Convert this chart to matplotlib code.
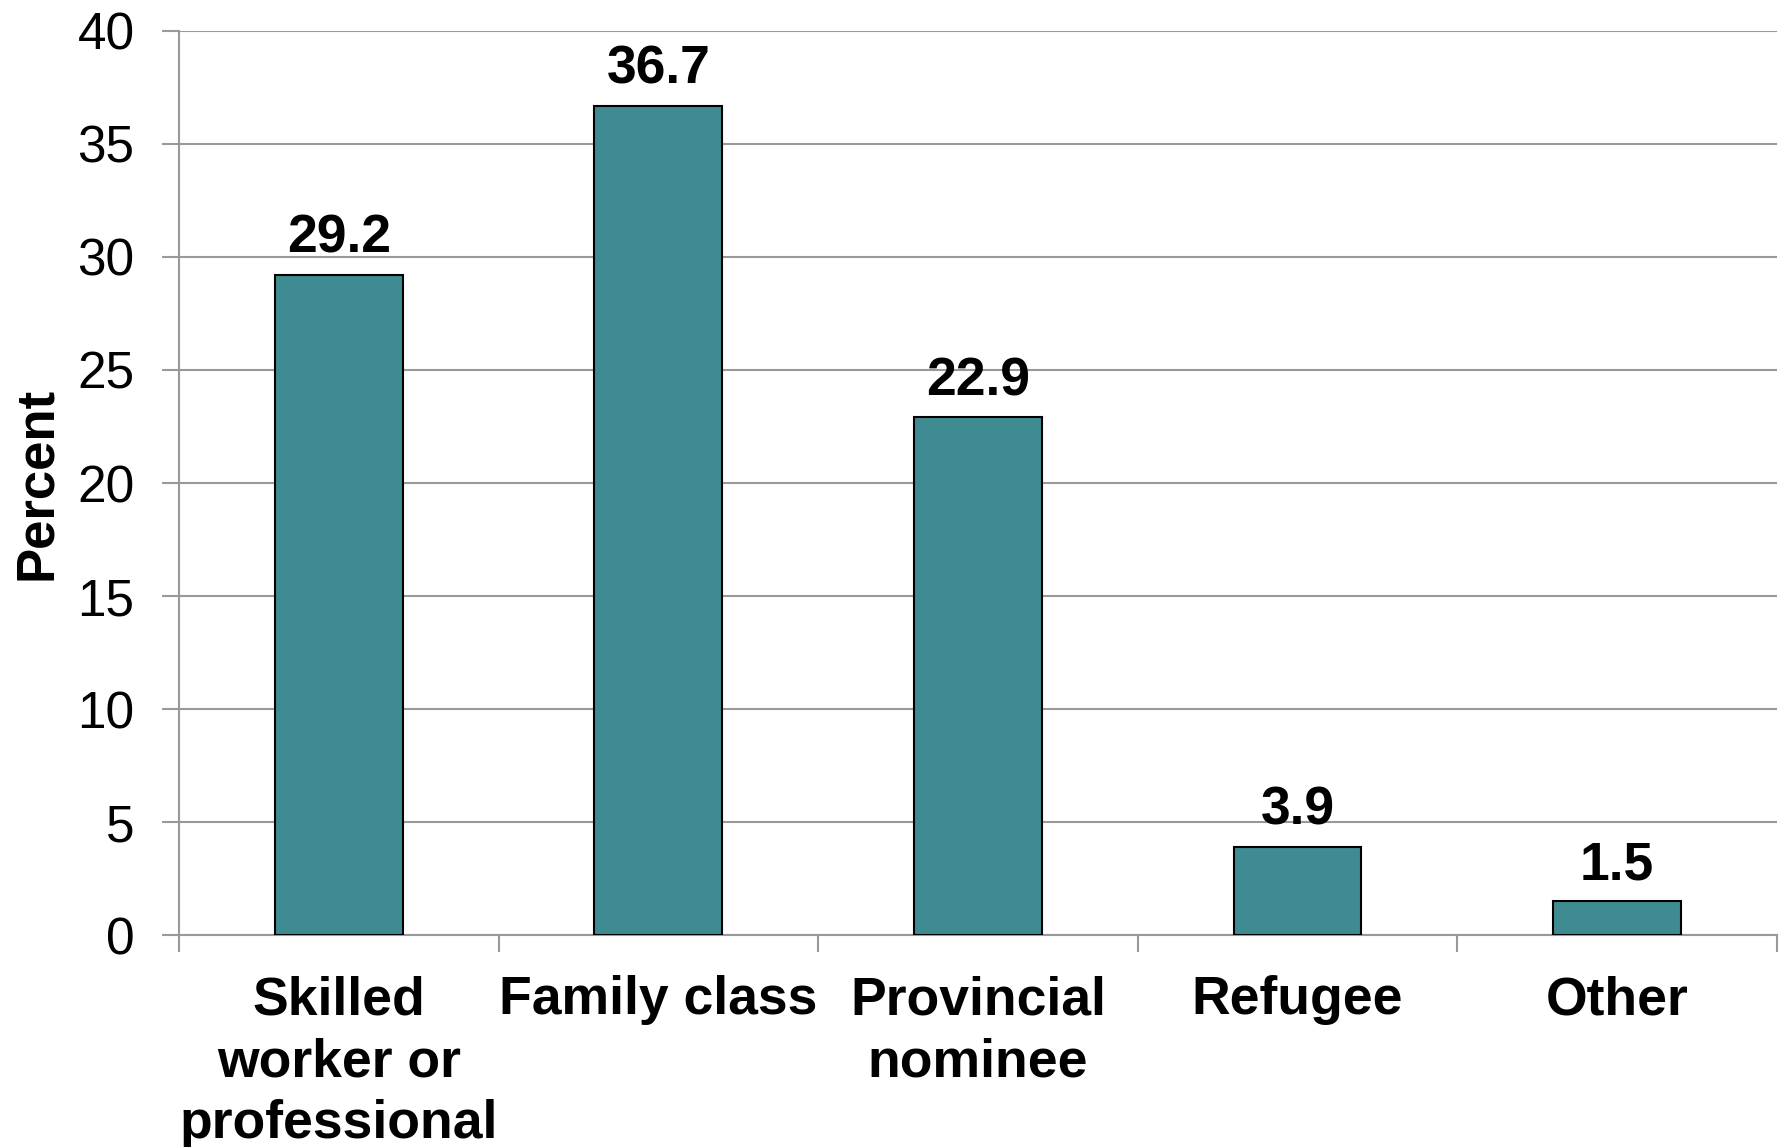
import matplotlib
matplotlib.use("Agg")
import matplotlib.pyplot as plt
import numpy as np

plt.rcParams['font.family'] = ['Liberation Sans', 'DejaVu Sans']

categories = ['Skilled\nworker or\nprofessional', 'Family class', 'Provincial\nnominee', 'Refugee', 'Other']
percent = [29.2, 36.7, 22.9, 3.9, 1.5]
yticks = [0, 5, 10, 15, 20, 25, 30, 35, 40]

bar_color = '#3e8b91'
grid_color = '#999999'

fig = plt.figure(figsize=(17.88, 11.47), dpi=100)
ax = fig.add_axes([0.1001, 0.1848, 0.8937, 0.7882])

x = np.arange(len(categories))
ax.bar(x, percent, width=0.4, color=bar_color, edgecolor='black', linewidth=1.5, zorder=3)

for xi, v in zip(x, percent):
    ax.annotate(f'{v:.1f}', (xi, v), xytext=(0, 8), textcoords='offset points',
                ha='center', va='bottom', fontsize=38.5, fontweight='bold')

ax.set_xlim(-0.5, len(categories) - 0.5)
ax.set_ylim(0, 40)
ax.set_yticks(yticks)
ax.tick_params(axis='y', labelsize=37, length=12, width=1.5, color=grid_color, pad=20)
ax.set_xticks(x)
ax.set_xticklabels(categories, fontsize=38.5, fontweight='bold', linespacing=1.3)
ax.set_xticks(np.arange(len(categories) + 1) - 0.5, minor=True)
ax.tick_params(axis='x', which='major', length=0, pad=29)
ax.tick_params(axis='x', which='minor', length=12, width=1.5, color=grid_color)

ax.grid(axis='y', color=grid_color, linewidth=1.5, zorder=0)
for s in ['top', 'right']:
    ax.spines[s].set_visible(False)
for s in ['left', 'bottom']:
    ax.spines[s].set_color(grid_color)
    ax.spines[s].set_linewidth(1.5)

ax.set_ylabel('Percent', fontsize=38, fontweight='bold')
ax.yaxis.set_label_coords(-0.073, 0.5)

fig.savefig('out.png', dpi=100)
